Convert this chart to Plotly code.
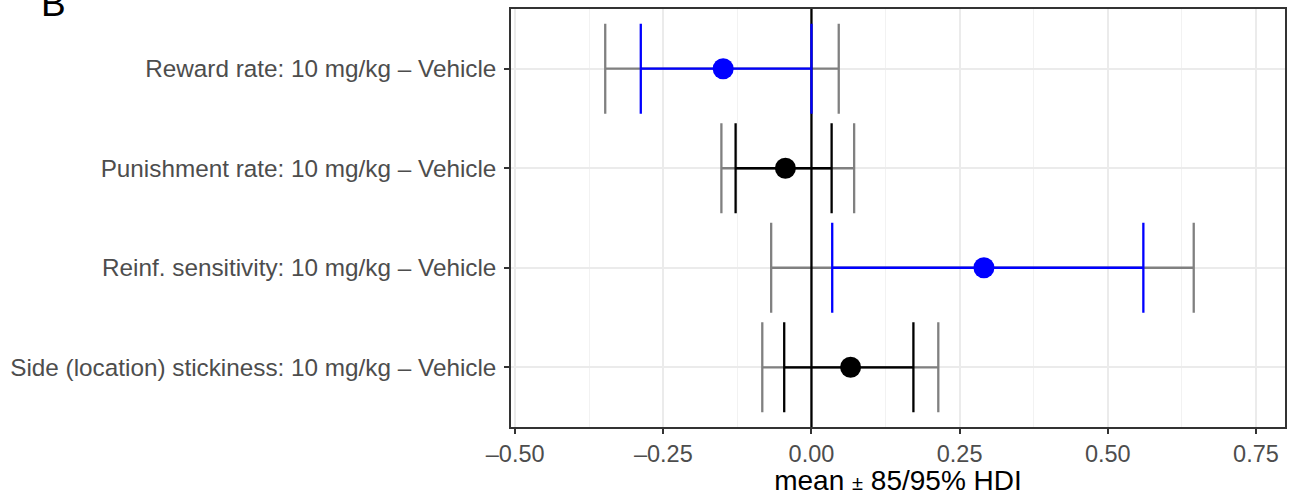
import plotly.graph_objects as go

categories = [
    "Side (location) stickiness: 10 mg/kg – Vehicle",
    "Reinf. sensitivity: 10 mg/kg – Vehicle",
    "Punishment rate: 10 mg/kg – Vehicle",
    "Reward rate: 10 mg/kg – Vehicle",
]
means = [0.066, 0.291, -0.044, -0.149]
hdi85_lo = [-0.046, 0.035, -0.128, -0.288]
hdi85_hi = [0.172, 0.560, 0.034, 0.000]
hdi95_lo = [-0.083, -0.068, -0.152, -0.348]
hdi95_hi = [0.214, 0.645, 0.072, 0.046]
colours = ["black", "blue", "black", "blue"]
xticks = [-0.50, -0.25, 0.00, 0.25, 0.50, 0.75]
xticklabels = ["–0.50", "–0.25", "0.00", "0.25", "0.50", "0.75"]

ypos = list(range(1, len(categories) + 1))
font = "Liberation Sans, Arial, Helvetica, sans-serif"

fig = go.Figure()

# 95% HDI (grey)
fig.add_trace(go.Scatter(
    x=means, y=ypos, mode="markers",
    marker=dict(size=1, color="rgba(0,0,0,0)"),
    error_x=dict(type="data", symmetric=False,
                 array=[h - m for h, m in zip(hdi95_hi, means)],
                 arrayminus=[m - l for l, m in zip(hdi95_lo, means)],
                 color="#808080", thickness=2.3, width=45),
    showlegend=False, hoverinfo="skip"))

# zero reference line
fig.add_trace(go.Scatter(
    x=[0, 0], y=[0.4, len(categories) + 0.6], mode="lines",
    line=dict(color="black", width=2.3), showlegend=False, hoverinfo="skip"))

# 85% HDI (coloured), one trace per row for colour
for i in range(len(categories)):
    fig.add_trace(go.Scatter(
        x=[means[i]], y=[ypos[i]], mode="markers",
        marker=dict(size=21, color=colours[i]),
        error_x=dict(type="data", symmetric=False,
                     array=[hdi85_hi[i] - means[i]],
                     arrayminus=[means[i] - hdi85_lo[i]],
                     color=colours[i], thickness=2.3, width=45),
        showlegend=False, hoverinfo="skip"))

fig.update_layout(
    width=1289, height=496,
    margin=dict(l=511, r=2, t=9, b=69),
    plot_bgcolor="white", paper_bgcolor="white",
    font=dict(family=font, color="#4D4D4D", size=23.5),
    xaxis=dict(
        range=[-0.507, 0.799],
        tickvals=xticks, ticktext=xticklabels,
        ticks="outside", ticklen=5, tickwidth=1.5, tickcolor="#333333",
        showline=True, linecolor="#333333", linewidth=1.5, mirror=True,
        showgrid=True, gridcolor="#EBEBEB", gridwidth=1.5,
        minor=dict(showgrid=True, gridcolor="#F2F2F2", gridwidth=1, dtick=0.25, tick0=-0.375),
        zeroline=False,
        tickfont=dict(size=23.5, color="#4D4D4D"),
        title=dict(text="mean <span style='font-size:20px'>±</span> 85/95% HDI",
                   font=dict(size=28, color="black"), standoff=6),
    ),
    yaxis=dict(
        range=[0.4, len(categories) + 0.6],
        tickvals=ypos, ticktext=categories,
        ticks="outside", ticklen=5, tickwidth=1.5, tickcolor="#333333",
        showline=True, linecolor="#333333", linewidth=1.5, mirror=True,
        showgrid=True, gridcolor="#EBEBEB", gridwidth=1.5,
        zeroline=False, ticklabelstandoff=3,
        tickfont=dict(size=24.3, color="#4D4D4D"),
    ),
    annotations=[dict(
        text="B", xref="paper", yref="paper", x=(38 - 511) / 776, y=1 - 17 / 418,
        xanchor="left", yanchor="bottom", showarrow=False,
        font=dict(size=37, color="black", family=font))],
)

fig.write_html("out.html", config={"displayModeBar": False},
               post_script="document.body.style.margin='0';document.body.style.overflow='hidden';")
